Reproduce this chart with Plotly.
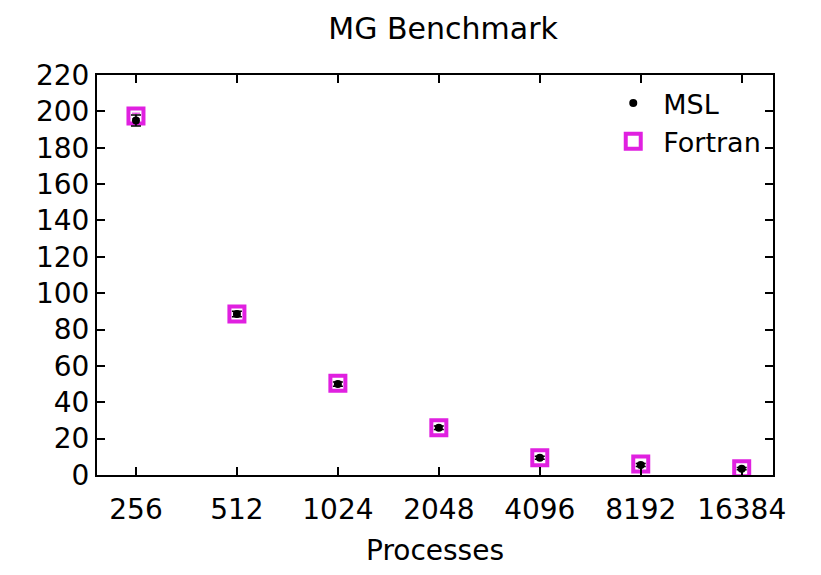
import plotly.graph_objects as go

processes = ["256", "512", "1024", "2048", "4096", "8192", "16384"]
msl = [195, 88.5, 50, 26, 9.5, 5.5, 3.5]
msl_err = [3, 1.5, 1.2, 1, 0.8, 0.8, 0.6]
fortran = [197.5, 88.5, 50.5, 26, 9.5, 6, 3.5]
fortran_err = [1.5, 1, 1, 0.8, 0.6, 0.6, 0.5]
y_ticks = list(range(0, 221, 20))

idx = list(range(len(processes)))
font = "DejaVu Sans, Liberation Sans, Arial, sans-serif"

fig = go.Figure()
fig.add_trace(go.Scatter(
    x=idx, y=fortran, name="Fortran", mode="markers",
    marker=dict(symbol="square-open", size=15, color="#e020e0", line=dict(width=4, color="#e020e0")),
    error_y=dict(type="data", array=fortran_err, color="#e020e0", thickness=1, width=4),
))
fig.add_trace(go.Scatter(
    x=idx, y=msl, name="MSL", mode="markers",
    marker=dict(symbol="circle", size=8, color="black"),
    error_y=dict(type="data", array=msl_err, color="black", thickness=1.5, width=5),
))

fig.update_layout(
    width=821, height=575,
    margin=dict(l=89, r=56, t=67, b=108),
    paper_bgcolor="white", plot_bgcolor="white",
    font=dict(family=font, size=28, color="black"),
    title=dict(text="MG Benchmark", x=0.53, xanchor="center", y=0.965, yanchor="middle",
               font=dict(family=font, size=30, color="black")),
    showlegend=True,
    legend=dict(x=0.99, y=0.99, xanchor="right", yanchor="top", traceorder="reversed",
                bgcolor="rgba(0,0,0,0)", font=dict(family=font, size=27), itemwidth=50,
                tracegroupgap=0),
)
fig.update_xaxes(
    range=[-0.386, 6.31], tickvals=idx, ticktext=processes,
    showline=True, linecolor="black", linewidth=2, mirror="ticks",
    ticks="inside", ticklen=8, tickwidth=2, tickcolor="black",
    showgrid=False, zeroline=False, ticklabelstandoff=8,
    title=dict(text="Processes", font=dict(family=font, size=28), standoff=16),
    tickfont=dict(family=font, size=28),
)
fig.update_yaxes(
    range=[0, 220], tickvals=y_ticks,
    showline=True, linecolor="black", linewidth=2, mirror="ticks",
    ticks="inside", ticklen=8, tickwidth=2, tickcolor="black",
    showgrid=False, zeroline=False,
    tickfont=dict(family=font, size=28),
)

fig.write_html("out.html")
